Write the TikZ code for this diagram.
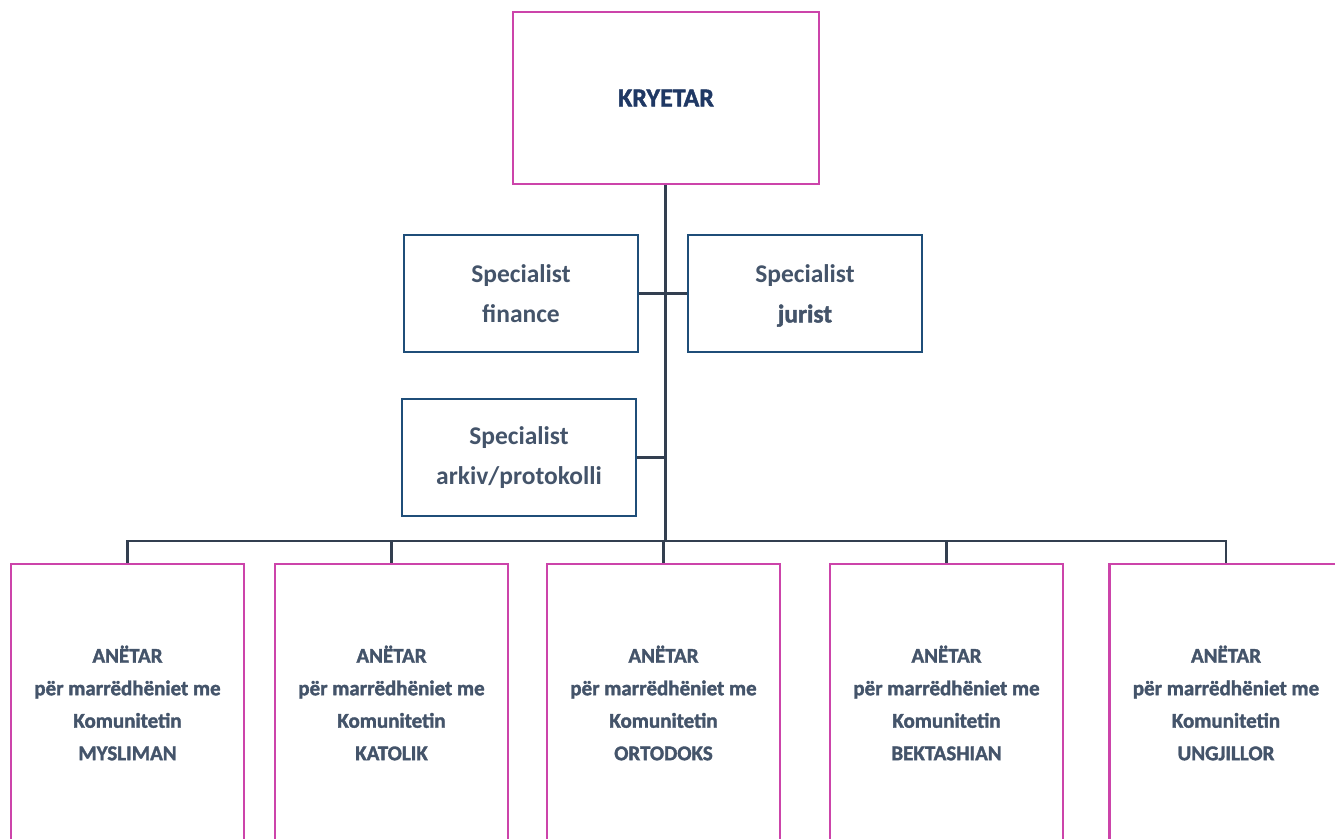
\documentclass[tikz,border=0pt]{standalone}
\usepackage{fontspec}
\setmainfont{Carlito}
\newfontfamily\heavy[FakeBold=1.6]{Carlito Bold}
\definecolor{mag}{HTML}{CC44AA}
\definecolor{bluebd}{HTML}{1F4E79}
\definecolor{txt}{HTML}{44546A}
\definecolor{navy}{HTML}{1F3864}
\definecolor{conn}{HTML}{333F50}
\begin{document}
\begin{tikzpicture}[x=1pt,y=-1pt,
  magbox/.style={draw=mag,line width=2.5pt,fill=white,inner sep=0pt,align=center,text=txt,font=\heavy\fontsize{21}{32.5}\selectfont},
  bluebox/.style={draw=bluebd,line width=2pt,fill=white,inner sep=0pt,align=center,text=txt,font=\bfseries\fontsize{25.5}{40}\selectfont,minimum width=234pt,minimum height=117pt},
  link/.style={draw=conn,line width=3pt},
  thin/.style={draw=conn,line width=2.5pt}]
\useasboundingbox (0,0) rectangle (1335,838);
% top
\node[magbox,minimum width=306pt,minimum height=172pt,text=navy,font=\heavy\fontsize{26}{30}\selectfont] (k) at (666,98) {KRYETAR};
\node[bluebox] (fin) at (521,293.5) {Specialist\\finance};
\node[bluebox] (jur) at (805,293.5) {Specialist\\\raisebox{0pt}[\height][0pt]{\heavy jurist}};
\node[bluebox] (ark) at (519,457.5) {Specialist\\arkiv/protokolli};
% bottom
\foreach \n/\x/\t in {m/127.5/MYSLIMAN,c/391.5/KATOLIK,o/663.5/ORTODOKS,b/946.5/BEKTASHIAN,u/1226/UNGJILLOR}{
  \node[magbox,minimum width=233pt,minimum height=278pt] (\n) at (\x,703) {ANËTAR\\për marrëdhëniet me\\Komunitetin\\\t};
}
% connectors
\coordinate (bar) at (665,541);
\draw[link] (k.south -| bar) -- (bar);
\draw[thin] (fin.east) -- (jur.west);
\draw[thin] (ark.east) -- (ark.east -| bar);
\draw[thin] (m.north) -- (m.north |- bar) -- (u.north |- bar) -- (u.north);
\foreach \n in {c,o,b}{\draw[thin] (\n.north) -- (\n.north |- bar);}
\end{tikzpicture}
\end{document}
